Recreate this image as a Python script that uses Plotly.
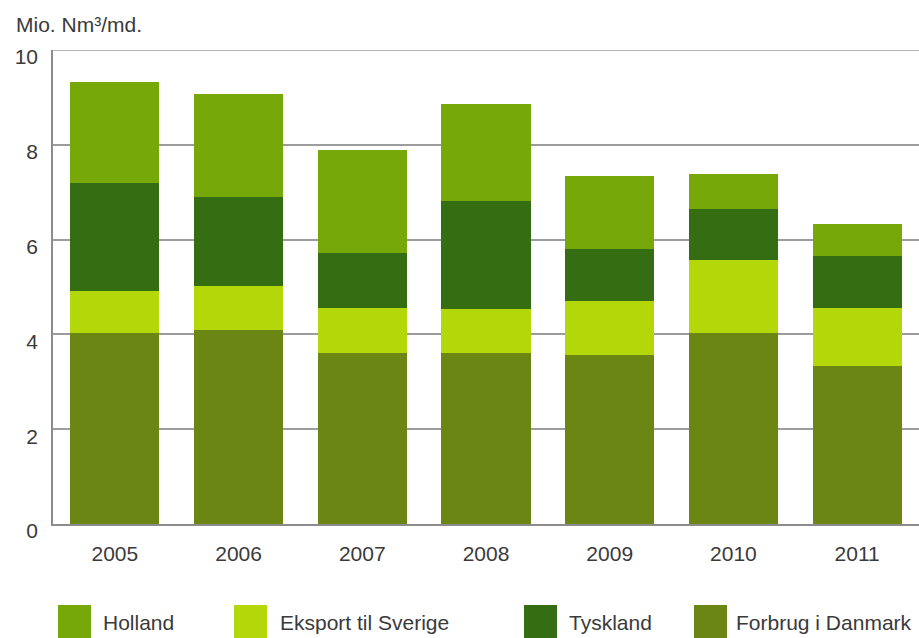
import plotly.graph_objects as go

# Daily gas deliveries, million Nm3 per day
years = ["2005", "2006", "2007", "2008", "2009", "2010", "2011"]
forbrug_danmark = [4.03, 4.09, 3.60, 3.60, 3.57, 4.04, 3.34]
eksport_sverige = [0.89, 0.93, 0.96, 0.93, 1.14, 1.54, 1.21]
tyskland = [2.27, 1.88, 1.15, 2.29, 1.09, 1.07, 1.11]
holland = [2.14, 2.17, 2.17, 2.04, 1.55, 0.73, 0.67]

series_names = ["Forbrug i Danmark", "Eksport til Sverige", "Tyskland", "Holland"]
series_values = [forbrug_danmark, eksport_sverige, tyskland, holland]
series_colors = ["#6b8612", "#b4d70a", "#346d12", "#77a80a"]

# Legend order as shown beneath the chart
legend_names = ["Holland", "Eksport til Sverige", "Tyskland", "Forbrug i Danmark"]
legend_colors = ["#77a80a", "#b4d70a", "#346d12", "#6b8612"]

y_ticks = [0, 2, 4, 6, 8, 10]
y_max = 10

W, H = 919, 638
L, R, T, B = 53, 0, 50, 114
PW, PH = W - L - R, H - T - B

FONT = "Liberation Sans, Arial, sans-serif"
TXT = "#3a3a3a"
FS = 21

fig = go.Figure()
for name, vals, col in zip(series_names, series_values, series_colors):
    fig.add_trace(go.Bar(
        x=years, y=vals, name=name,
        marker=dict(color=col, line=dict(width=0)),
        showlegend=False,
        hovertemplate="%{x}: %{y:.2f}<extra>" + name + "</extra>",
    ))


def px_x(px):
    return (px - L) / PW


def px_y(py):
    return (H - B - py) / PH


# Top border line at the axis maximum
shapes = [dict(
    type="line", xref="paper", yref="y", x0=0, x1=1, y0=y_max, y1=y_max,
    line=dict(color="#9c9c9c", width=1.5), layer="below",
)]
annotations = []

# Legend: large colour squares with labels
legend_sq_left = [58, 234, 524, 694]
legend_txt_left = [101, 278, 567, 734]
for name, col, sx, tx in zip(legend_names, legend_colors, legend_sq_left, legend_txt_left):
    shapes.append(dict(
        type="rect", xref="paper", yref="paper",
        x0=px_x(sx), x1=px_x(sx + 33), y0=px_y(605), y1=px_y(638),
        fillcolor=col, line=dict(width=0), layer="above",
    ))
    annotations.append(dict(
        text=name, xref="paper", yref="paper",
        x=px_x(tx), y=px_y(622), xanchor="left", yanchor="middle",
        showarrow=False, font=dict(family=FONT, size=FS, color=TXT),
    ))

annotations.append(dict(
    text="Mio. Nm³/md.", xref="paper", yref="paper",
    x=px_x(14), y=px_y(24), xanchor="left", yanchor="middle",
    showarrow=False, font=dict(family=FONT, size=FS, color=TXT),
))

fig.update_layout(
    width=W, height=H,
    margin=dict(l=L, r=R, t=T, b=B, pad=0),
    barmode="stack",
    bargap=0.28,
    plot_bgcolor="white",
    paper_bgcolor="white",
    font=dict(family=FONT, size=FS, color=TXT),
    shapes=shapes,
    annotations=annotations,
    xaxis=dict(
        range=[-0.5, 6.5],
        showgrid=False,
        showline=True, linecolor="#8c8c8c", linewidth=1.5,
        ticks="",
        ticklabelstandoff=10,
        tickfont=dict(family=FONT, size=FS, color=TXT),
        fixedrange=True,
    ),
    yaxis=dict(
        range=[0, y_max],
        tickvals=y_ticks,
        showgrid=True, gridcolor="#9c9c9c", gridwidth=1.5,
        zeroline=False,
        showline=True, linecolor="#8c8c8c", linewidth=1.5,
        ticks="",
        ticklabelstandoff=9,
        ticklabelshift=7,
        tickfont=dict(family=FONT, size=FS, color=TXT),
        fixedrange=True,
    ),
)

fig.write_html("out.html")
